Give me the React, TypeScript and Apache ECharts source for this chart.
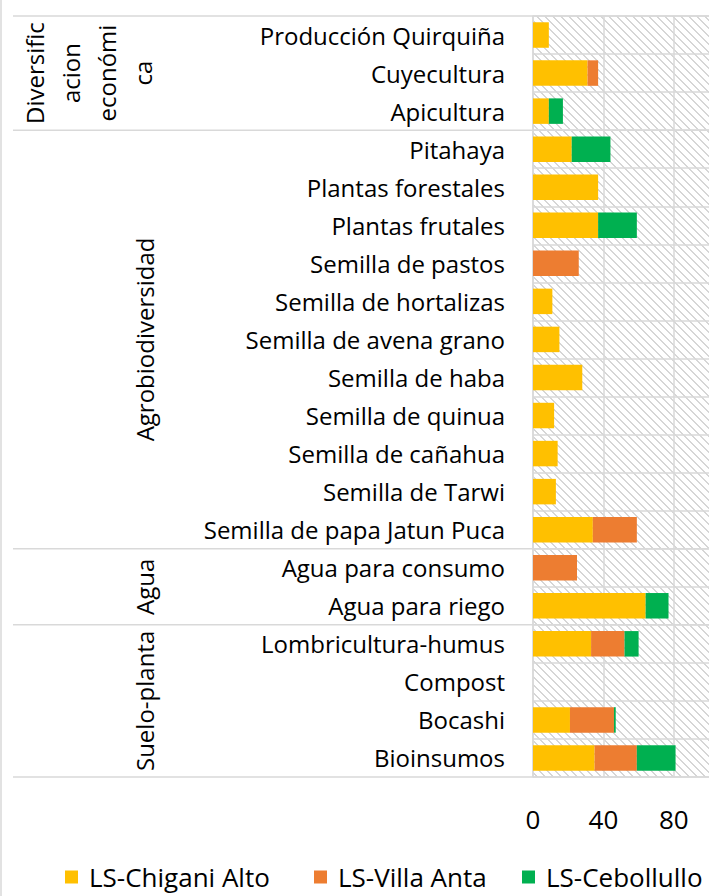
import React, { useEffect, useRef } from "react";
import * as echarts from "echarts";

const categories = [
  "Producción Quirquiña",
  "Cuyecultura",
  "Apicultura",
  "Pitahaya",
  "Plantas forestales",
  "Plantas frutales",
  "Semilla de pastos",
  "Semilla de hortalizas",
  "Semilla de avena grano",
  "Semilla de haba",
  "Semilla de quinua",
  "Semilla de cañahua",
  "Semilla de Tarwi",
  "Semilla de papa Jatun Puca",
  "Agua para consumo",
  "Agua para riego",
  "Lombricultura-humus",
  "Compost",
  "Bocashi",
  "Bioinsumos",
];
const chiganiAlto = [9, 31, 9, 22, 37, 37, 0, 11, 15, 28, 12, 14, 13, 34, 0, 64, 33, 0, 21, 35];
const villaAnta = [0, 6, 0, 0, 0, 0, 26, 0, 0, 0, 0, 0, 0, 25, 25, 0, 19, 0, 25, 24];
const cebollullo = [0, 0, 8, 22, 0, 22, 0, 0, 0, 0, 0, 0, 0, 0, 0, 13, 8, 0, 1, 22];
const seriesNames = ["LS-Chigani Alto", "LS-Villa Anta", "LS-Cebollullo"];
const groupNames = ["Diversific\nacion\neconómi\nca", "Agrobiodiversidad", "Agua", "Suelo-planta"];
const groupSizes = [3, 11, 2, 4];

const W = 717;
const H = 896;
const GRID_LEFT = 533;
const GRID_RIGHT = 8;
const GRID_TOP = 16;
const GRID_BOTTOM = 119;
const FONT = "'Open Sans', 'Noto Sans', sans-serif";
const LINE = "#d9d9d9";
const LEGEND_LEFTS = [60, 309, 517];

function makeHatch(): HTMLCanvasElement {
  const c = document.createElement("canvas");
  c.width = 8;
  c.height = 8;
  const ctx = c.getContext("2d")!;
  ctx.fillStyle = "#ffffff";
  ctx.fillRect(0, 0, 8, 8);
  ctx.fillStyle = "#d6d6d6";
  for (let i = 0; i < 8; i++) {
    ctx.fillRect(i, i, 1, 1);
    ctx.fillRect((i + 1) % 8, i, 1, 1);
  }
  return c;
}

export default function App() {
  const ref = useRef<HTMLDivElement>(null);
  useEffect(() => {
    document.body.style.margin = "0";
    const chart = echarts.init(ref.current!, null, { renderer: "svg" });
    const plotBottom = H - GRID_BOTTOM;
    const rowH = (plotBottom - GRID_TOP) / categories.length;
    const plotRight = W - GRID_RIGHT;

    const graphics: any[] = [];
    graphics.push({
      type: "line",
      shape: { x1: 1, y1: 0, x2: 1, y2: H },
      style: { stroke: LINE, lineWidth: 1.5 },
    });
    let cum = 0;
    const bounds = [GRID_TOP];
    groupSizes.forEach((s) => {
      cum += s;
      bounds.push(GRID_TOP + cum * rowH);
    });
    bounds.forEach((y) => {
      graphics.push({
        type: "line",
        shape: { x1: 13, y1: y, x2: plotRight, y2: y },
        style: { stroke: LINE, lineWidth: 1.5 },
        z: 10,
      });
    });
    groupNames.forEach((g, i) => {
      const cy = (bounds[i] + bounds[i + 1]) / 2;
      const multi = g.includes("\n");
      graphics.push({
        type: "text",
        x: multi ? 88 : 144,
        y: cy,
        rotation: Math.PI / 2,
        style: {
          text: g,
          fontFamily: FONT,
          fontSize: 24,
          fill: "#000",
          align: "center",
          verticalAlign: "middle",
          lineHeight: 36,
        },
      });
    });

    const colors = ["#FFC000", "#ED7D31", "#00B050"];
    const data = [chiganiAlto, villaAnta, cebollullo];

    chart.setOption({
      animation: false,
      color: colors,
      textStyle: { fontFamily: FONT },
      grid: {
        left: GRID_LEFT,
        right: GRID_RIGHT,
        top: GRID_TOP,
        bottom: GRID_BOTTOM,
        show: true,
        borderWidth: 0,
        backgroundColor: { image: makeHatch(), repeat: "repeat" } as any,
      },
      legend: seriesNames.map((n, i) => ({
        data: [n],
        left: LEGEND_LEFTS[i],
        top: 859,
        icon: "rect",
        itemWidth: 13,
        itemHeight: 13,
        textStyle: { fontSize: 26, color: "#000", fontFamily: FONT, padding: [0, 0, 0, 6] },
      })),
      xAxis: {
        type: "value",
        min: 0,
        max: 100,
        interval: 40,
        axisLine: { show: false },
        axisTick: { show: false },
        axisLabel: {
          fontSize: 26,
          color: "#000",
          margin: 29,
          showMaxLabel: false,
          fontFamily: FONT,
        },
        splitLine: { show: true, showMaxLine: false, lineStyle: { color: LINE, width: 1.5 } },
      },
      yAxis: {
        type: "category",
        data: categories,
        inverse: true,
        axisTick: { show: false },
        axisLine: { show: true, lineStyle: { color: LINE, width: 1.5 } },
        axisLabel: { fontSize: 24, color: "#000", margin: 28, fontFamily: FONT },
        splitLine: { show: true, lineStyle: { color: LINE, width: 1.5 } },
      },
      series: data.map((d, i) => ({
        name: seriesNames[i],
        type: "bar",
        stack: "total",
        data: d,
        barCategoryGap: "33%",
      })),
      graphic: graphics,
    });
    return () => chart.dispose();
  }, []);
  return <div ref={ref} style={{ width: W, height: H }} />;
}
